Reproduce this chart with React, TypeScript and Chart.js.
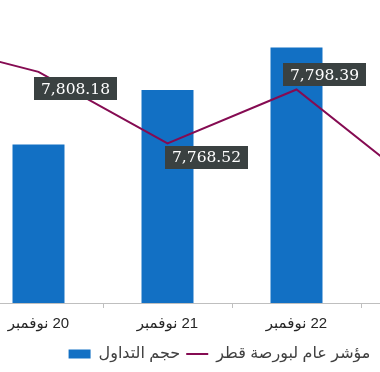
import React, { useEffect, useRef } from "react";
import { Chart, registerables } from "chart.js";

Chart.register(...registerables);

const RLM = "\u200F";
const days = ["19", "20", "21", "22", "23"];
const monthName = "نوفمبر";
const categories = days.map((d) => RLM + d + " " + monthName);
const volumeLabel = "حجم التداول";
const indexLabel = "مؤشر عام لبورصة قطر";
const volumeValues: (number | null)[] = [null, 157, 211, 253, null];
const indexValues = [7826.6, 7808.18, 7768.52, 7798.39, 7741.7];
const shownIndexLabels = [false, true, true, true, false];

const labelPlugin = {
  id: "boxLabels",
  afterDatasetsDraw(chart: any, _args: any, opts: any) {
    const meta = chart.getDatasetMeta(opts.datasetIndex);
    const ctx = chart.ctx;
    ctx.save();
    ctx.font = opts.font;
    ctx.textAlign = "center";
    ctx.textBaseline = "middle";
    meta.data.forEach((pt: any, i: number) => {
      if (!shownIndexLabels[i]) return;
      const v = indexValues[i];
      const txt = v.toLocaleString("en-US", { minimumFractionDigits: 2, maximumFractionDigits: 2 });
      const off = opts.offsets[i];
      const cx = pt.x + off[0];
      const cy = pt.y + off[1];
      const w = ctx.measureText(txt).width + opts.padX * 2;
      const h = opts.height;
      ctx.fillStyle = opts.background;
      ctx.fillRect(Math.round(cx - w / 2), Math.round(cy - h / 2), Math.round(w), h);
      ctx.fillStyle = opts.color;
      ctx.fillText(txt, cx, cy + 1);
    });
    ctx.restore();
  },
};

export default function App() {
  const ref = useRef<HTMLCanvasElement>(null);
  useEffect(() => {
    const chart = new Chart(ref.current!, {
      type: "bar",
      data: {
        labels: categories,
        datasets: [
          {
            type: "line",
            label: indexLabel,
            data: indexValues,
            yAxisID: "y1",
            borderColor: "#850b52",
            backgroundColor: "#850b52",
            borderWidth: 2,
            pointRadius: 0,
            tension: 0,
            pointStyle: "line",
          } as any,
          {
            type: "bar",
            label: volumeLabel,
            data: volumeValues,
            yAxisID: "y",
            backgroundColor: "#1270c4",
            borderWidth: 0,
            categoryPercentage: 1,
            barPercentage: 0.403,
            pointStyle: "rect",
          } as any,
        ],
      },
      options: {
        responsive: false,
        animation: false,
        layout: { padding: 0 },
        plugins: {
          tooltip: { enabled: false },
          legend: {
            position: "bottom",
            reverse: true,
            labels: {
              usePointStyle: true,
              pointStyleWidth: 22,
              boxHeight: 9,
              padding: 6,
              color: "#404040",
              font: { family: "'Liberation Sans', 'DejaVu Sans', sans-serif", size: 16 },
            },
          },
          boxLabels: {
            datasetIndex: 0,
            offsets: [
              [0, 0],
              [37, 17],
              [39, 14],
              [28, -15],
              [0, 0],
            ],
            font: "15.5px 'DejaVu Serif', serif",
            padX: 7,
            height: 23,
            background: "#3a4141",
            color: "#ffffff",
          },
        } as any,
        scales: {
          x: {
            grid: {
              display: true,
              drawOnChartArea: false,
              color: "#bfbfbf",
              tickLength: 5,
              offset: true,
            },
            border: { color: "#bfbfbf" },
            ticks: {
              color: "#262626",
              padding: 7,
              maxRotation: 0,
              font: { family: "'Liberation Sans', 'DejaVu Sans', sans-serif", size: 15 },
            },
          },
          y: { display: false, min: 0, max: 300 },
          y1: {
            position: "right",
            min: 7680,
            max: 7848,
            display: true,
            ticks: { display: false },
            grid: { display: false },
            border: { display: false },
            afterFit: (s: any) => {
              s.width = 104;
            },
          },
        },
      },
      plugins: [labelPlugin],
    });
    return () => chart.destroy();
  }, []);
  return (
    <div style={{ position: "fixed", left: 0, top: 0, width: 380, height: 372, overflow: "hidden", background: "#fff" }}>
      <div style={{ position: "absolute", left: -155, top: 0, width: 749, height: 372 }}>
        <canvas ref={ref} width={749} height={372} style={{ display: "block" }} />
      </div>
    </div>
  );
}
